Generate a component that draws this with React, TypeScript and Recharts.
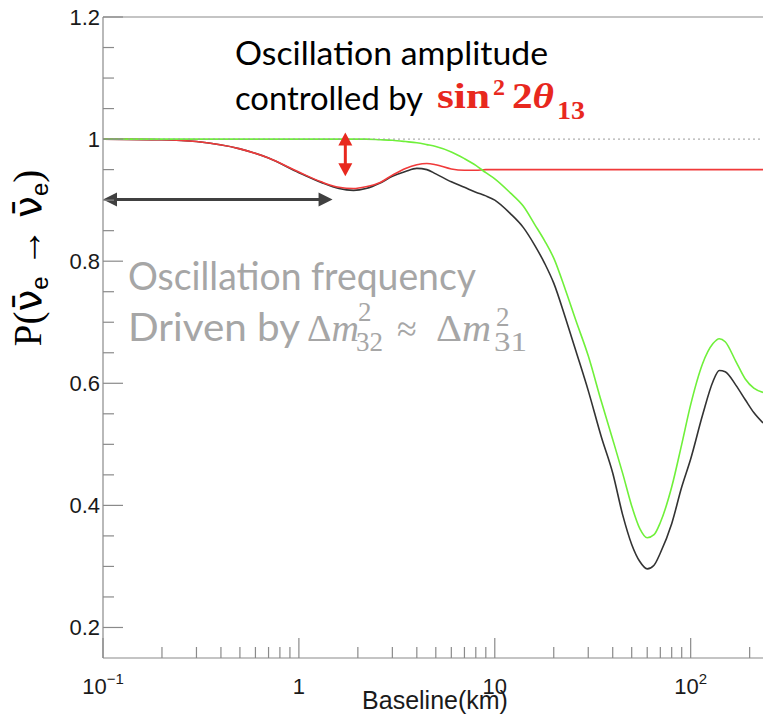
import React from 'react'
import { LineChart, Line, XAxis, YAxis, ReferenceLine } from 'recharts'

// baseline distance (km), log axis
const baselineKm = [0.1, 0.2, 0.3, 0.5, 0.7, 1, 1.3, 1.6, 1.9, 2.2, 2.6, 3, 3.5, 4, 4.5, 5, 6, 7, 8, 9, 10, 12, 14, 16, 18, 20, 23, 26, 30, 35, 40, 45, 50, 55, 60, 65, 70, 80, 90, 100, 115, 130, 140, 150, 170, 190, 210, 234]
// full survival probability (black)
const fullProb = [1.0, 0.999, 0.996, 0.984, 0.969, 0.945, 0.929, 0.919, 0.916, 0.919, 0.928, 0.939, 0.947, 0.952, 0.95, 0.943, 0.93, 0.921, 0.913, 0.907, 0.9, 0.878, 0.855, 0.826, 0.796, 0.764, 0.706, 0.652, 0.588, 0.512, 0.453, 0.384, 0.336, 0.308, 0.296, 0.302, 0.322, 0.37, 0.43, 0.476, 0.548, 0.603, 0.621, 0.619, 0.597, 0.573, 0.552, 0.535]
// theta13 term only (red)
const theta13Prob = [1.0, 0.999, 0.996, 0.984, 0.969, 0.946, 0.93, 0.921, 0.919, 0.922, 0.929, 0.941, 0.952, 0.958, 0.96, 0.958, 0.951, 0.949, 0.949, 0.95, 0.95, 0.95, 0.95, 0.95, 0.95, 0.95, 0.95, 0.95, 0.95, 0.95, 0.95, 0.95, 0.95, 0.95, 0.95, 0.95, 0.95, 0.95, 0.95, 0.95, 0.95, 0.95, 0.95, 0.95, 0.95, 0.95, 0.95, 0.95]
// theta12 term only (green)
const theta12Prob = [1.0, 1.0, 1.0, 1.0, 1.0, 1.0, 1.0, 1.0, 1.0, 1.0, 0.999, 0.998, 0.996, 0.994, 0.991, 0.988, 0.979, 0.968, 0.957, 0.945, 0.935, 0.912, 0.89, 0.86, 0.833, 0.805, 0.752, 0.702, 0.645, 0.57, 0.508, 0.452, 0.399, 0.362, 0.347, 0.352, 0.372, 0.43, 0.5, 0.565, 0.632, 0.665, 0.673, 0.668, 0.636, 0.607, 0.592, 0.585]

const xTicks = [0.1, 0.2, 0.3, 0.4, 0.5, 0.6, 0.7, 0.8, 0.9, 1, 2, 3, 4, 5, 6, 7, 8, 9, 10, 20, 30, 40, 50, 60, 70, 80, 90, 100, 200]
const xMajor = [0.1, 1, 10, 100]
const yTicks = [0.2, 0.25, 0.3, 0.35, 0.4, 0.45, 0.5, 0.55, 0.6, 0.65, 0.7, 0.75, 0.8, 0.85, 0.9, 0.95, 1, 1.05, 1.1, 1.15, 1.2]
const yLabels = ['0.2', '0.4', '0.6', '0.8', '1', '1.2']

const data = baselineKm.map((km, i) => ({
  km,
  full: fullProb[i],
  t13: theta13Prob[i],
  t12: theta12Prob[i],
}))

const AXIS = '#8a8a8a'
const TICKFONT = "'Liberation Sans', Arial, Helvetica, sans-serif"

function XTick(props: any) {
  const { x, y, payload } = props
  const v = payload.value
  const major = xMajor.some((m) => Math.abs(m - v) < 1e-9)
  const len = major ? 20 : 11
  let label: any = null
  if (major) {
    if (v === 0.1) label = <>10<tspan dy={-10} fontSize={15}>−1</tspan></>
    else if (v === 1) label = '1'
    else if (v === 10) label = '10'
    else label = <>10<tspan dy={-10} fontSize={15}>2</tspan></>
  }
  return (
    <g>
      <line x1={x} y1={y} x2={x} y2={y - len} stroke={AXIS} strokeWidth={1.2} />
      {label && (
        <text x={x} y={y + 36} textAnchor="middle" fontSize={22} fontFamily={TICKFONT} fill="#1a1a1a">
          {label}
        </text>
      )}
    </g>
  )
}

function YTick(props: any) {
  const { x, y, payload } = props
  const v = payload.value
  const lab = yLabels.find((l) => Math.abs(parseFloat(l) - v) < 1e-9)
  const len = lab ? 20 : 11
  return (
    <g>
      <line x1={x} y1={y} x2={x + len} y2={y} stroke={AXIS} strokeWidth={1.2} />
      {lab && (
        <text x={x - 3} y={y + 8} textAnchor="end" fontSize={22} fontFamily={TICKFONT} fill="#1a1a1a">
          {lab}
        </text>
      )}
    </g>
  )
}

function DoubleArrow(color: string, head: number, halfW: number, width: number) {
  return (props: any) => {
    const { x1, y1, x2, y2 } = props
    const dx = x2 - x1
    const dy = y2 - y1
    const L = Math.sqrt(dx * dx + dy * dy) || 1
    const ux = dx / L
    const uy = dy / L
    const px = -uy
    const py = ux
    const a = `${x1},${y1} ${x1 + ux * head + px * halfW},${y1 + uy * head + py * halfW} ${x1 + ux * head - px * halfW},${y1 + uy * head - py * halfW}`
    const b = `${x2},${y2} ${x2 - ux * head + px * halfW},${y2 - uy * head + py * halfW} ${x2 - ux * head - px * halfW},${y2 - uy * head - py * halfW}`
    return (
      <g>
        <line x1={x1 + ux * head * 0.8} y1={y1 + uy * head * 0.8} x2={x2 - ux * head * 0.8} y2={y2 - uy * head * 0.8} stroke={color} strokeWidth={width} />
        <polygon points={a} fill={color} />
        <polygon points={b} fill={color} />
      </g>
    )
  }
}

const blackArrow = DoubleArrow('#404040', 14, 7, 3)
const redArrow = DoubleArrow('#e8281e', 13, 7, 3)

export default function App() {
  const calibri = "Lato, 'Open Sans', 'Noto Sans', sans-serif"
  const serif = "'Liberation Serif', 'DejaVu Serif', serif"
  const gray = '#a6a6a6'
  const red = '#e8281e'
  return (
    <div style={{ position: 'absolute', left: 0, top: 0, width: 763, height: 715, background: '#fff' }}>
      <LineChart width={763} height={715} data={data} margin={{ top: 17, right: 0, left: 0, bottom: 0 }}>
        <XAxis
          dataKey="km"
          type="number"
          scale="log"
          domain={[0.1, 234]}
          allowDataOverflow
          ticks={xTicks}
          interval={0}
          tick={<XTick />}
          tickLine={false}
          tickSize={0}
          tickMargin={0}
          height={57}
          axisLine={{ stroke: AXIS, strokeWidth: 1.2 }}
        />
        <YAxis
          type="number"
          domain={[0.15, 1.2]}
          allowDataOverflow
          ticks={yTicks}
          interval={0}
          tick={<YTick />}
          tickLine={false}
          tickSize={0}
          tickMargin={0}
          width={103}
          axisLine={{ stroke: AXIS, strokeWidth: 1.2 }}
        />
        <ReferenceLine y={1.2} stroke={AXIS} strokeWidth={1.2} />
        <Line type="monotone" dataKey="full" stroke="#333333" strokeWidth={1.6} dot={false} isAnimationActive={false} />
        <Line type="monotone" dataKey="t13" stroke="#f03a3a" strokeWidth={1.6} dot={false} isAnimationActive={false} />
        <Line type="monotone" dataKey="t12" stroke="#6ff03a" strokeWidth={1.6} dot={false} isAnimationActive={false} />
        <ReferenceLine y={1} stroke="#9a9a9a" strokeWidth={1} strokeDasharray="2 3" />
        <ReferenceLine
          segment={[{ x: 0.1, y: 0.901 }, { x: 1.486, y: 0.901 }]}
          ifOverflow="visible"
          shape={blackArrow}
        />
        <ReferenceLine
          segment={[{ x: 1.726, y: 1.011 }, { x: 1.726, y: 0.939 }]}
          ifOverflow="visible"
          shape={redArrow}
        />
      </LineChart>
      <svg width={763} height={715} style={{ position: 'absolute', left: 0, top: 0, pointerEvents: 'none' }}>
        <text transform="translate(41,258) rotate(-90)" textAnchor="middle" fontSize={39} fontFamily={serif} fill="#000">
          P(<tspan fontFamily="'DejaVu Sans', sans-serif">ν̄</tspan>
          <tspan dy={7} fontSize={24} fontFamily={TICKFONT}>e</tspan>
          <tspan dy={-7}> → </tspan>
          <tspan fontFamily="'DejaVu Sans', sans-serif">ν̄</tspan>
          <tspan dy={7} fontSize={24} fontFamily={TICKFONT}>e</tspan>
          <tspan dy={-7}>)</tspan>
        </text>
        <text x={435} y={709} textAnchor="middle" fontSize={25} fontFamily={TICKFONT} fill="#1a1a1a">Baseline(km)</text>

        <text x={235} y={65} fontSize={33} fontFamily={calibri} fill="#000" textLength={313} lengthAdjust="spacingAndGlyphs">Oscillation amplitude</text>
        <text x={235} y={110} fontSize={33} fontFamily={calibri} fill="#000" textLength={188} lengthAdjust="spacingAndGlyphs">controlled by</text>
        <text x={437} y={108} fontSize={36} fontWeight="bold" fontFamily={serif} fill={red} textLength={53} lengthAdjust="spacingAndGlyphs">sin</text>
        <text x={493} y={95} fontSize={24} fontWeight="bold" fontFamily={serif} fill={red}>2</text>
        <text x={512} y={108} fontSize={36} fontWeight="bold" fontFamily={serif} fill={red} textLength={42} lengthAdjust="spacingAndGlyphs">2<tspan fontStyle="italic">θ</tspan></text>
        <text x={557} y={119} fontSize={25} fontWeight="bold" fontFamily={serif} fill={red} textLength={28} lengthAdjust="spacingAndGlyphs">13</text>

        <text x={128} y={290} fontSize={38} fontFamily={calibri} fill={gray} textLength={348} lengthAdjust="spacingAndGlyphs">Oscillation frequency</text>
        <text x={128} y={341} fontSize={38} fontFamily={calibri} fill={gray} textLength={172} lengthAdjust="spacingAndGlyphs">Driven by</text>
        <text x={307} y={341} fontSize={38} fontFamily={serif} fill={gray}>Δ<tspan fontStyle="italic">m</tspan></text>
        <text x={358} y={321} fontSize={27} fontFamily={serif} fill={gray}>2</text>
        <text x={356} y={351} fontSize={27} fontFamily={serif} fill={gray}>32</text>
        <text x={397} y={341} fontSize={36} fontFamily={serif} fill={gray}>≈</text>
        <text x={436} y={341} fontSize={38} fontFamily={serif} fill={gray} textLength={55} lengthAdjust="spacingAndGlyphs">Δ<tspan fontStyle="italic">m</tspan></text>
        <text x={496} y={326} fontSize={27} fontFamily={serif} fill={gray}>2</text>
        <text x={494} y={351} fontSize={27} fontFamily={serif} fill={gray} textLength={33} lengthAdjust="spacingAndGlyphs">31</text>
      </svg>
    </div>
  )
}
